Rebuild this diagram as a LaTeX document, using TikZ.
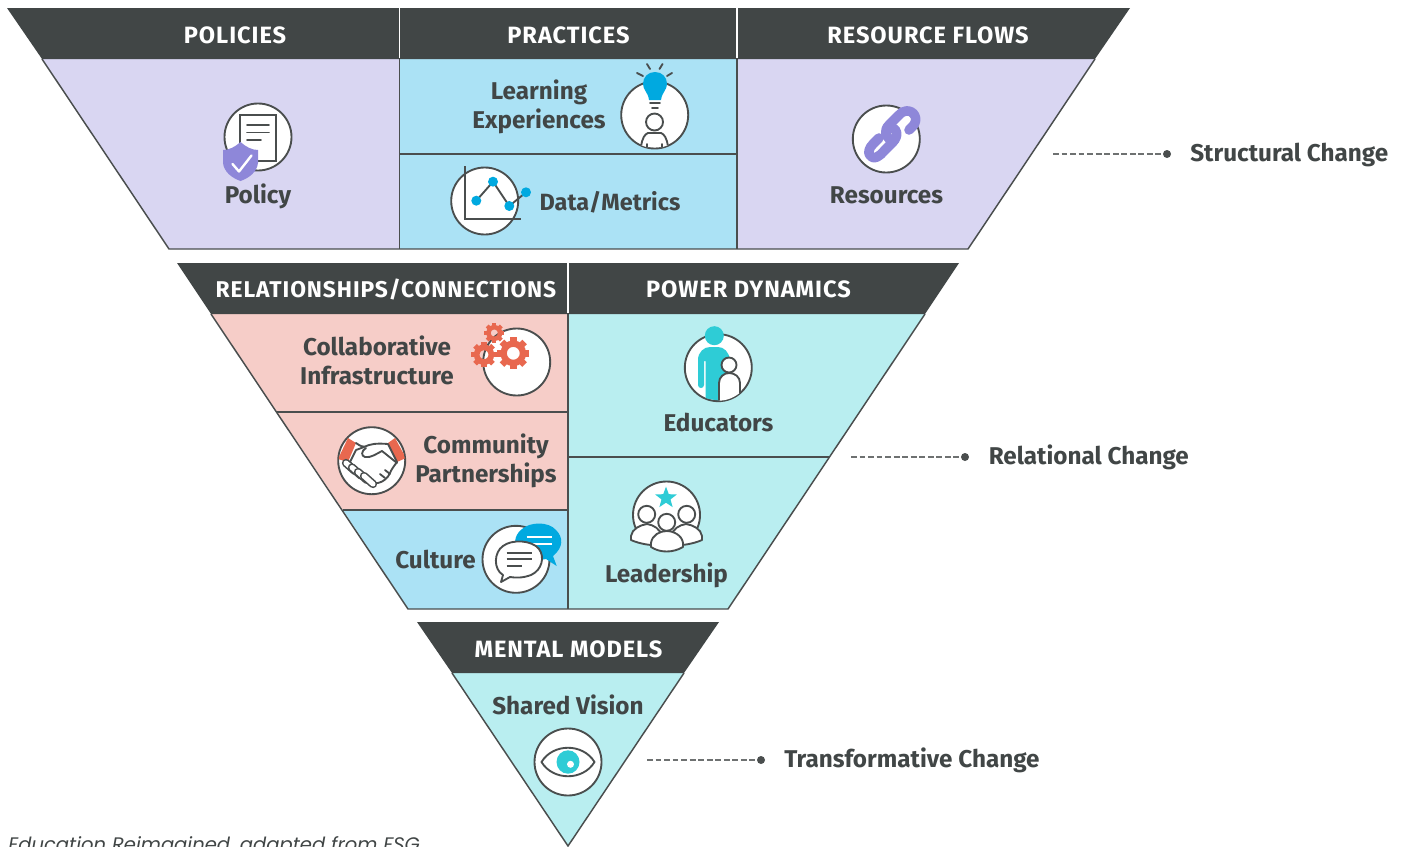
\documentclass[tikz,border=0pt]{standalone}
\usepackage{fontspec}
\setmainfont{Fira Sans}
\newfontfamily\hdfont[LetterSpace=4]{Fira Sans}
\newfontfamily\footfont{Poppins}
\usetikzlibrary{shapes.geometric,calc}
\definecolor{dk}{HTML}{414646}
\definecolor{ln}{HTML}{4A4E4E}
\definecolor{lav}{HTML}{D9D6F2}
\definecolor{sky}{HTML}{ABE2F5}
\definecolor{pnk}{HTML}{F6CDC8}
\definecolor{teal}{HTML}{B9EEF0}
\definecolor{purp}{HTML}{8E87D9}
\definecolor{blu}{HTML}{00A9E0}
\definecolor{cor}{HTML}{E8684F}
\definecolor{cyn}{HTML}{2ECCD6}
\newcommand{\gearicon}[4]{% x,y,r,hole
  \draw[cor,line width={(#3*0.8-#4)*0.75pt}] (#1,#2) circle[radius={(#3*0.8+#4)/2}];
  \foreach \a in {0,45,...,315}{
    \draw[cor,line width={#3*0.4*0.75pt}] ($(#1,#2)+(\a:{#3*0.7} and {#3*0.7})$) -- ($(#1,#2)+(\a:#3 and #3)$);
  }}
\tikzset{
  x=0.75pt,y=-0.75pt,
  seg/.style={draw=ln,line width=1.1pt,line join=miter},
  headbar/.style={fill=dk,draw=none},
  headtxt/.style={anchor=base,text=white,font=\hdfont\bfseries\fontsize{17.7pt}{19pt}\selectfont,inner sep=0pt},
  headlong/.style={anchor=base,text=white,font=\hdfont\bfseries\fontsize{17.1pt}{19pt}\selectfont,inner sep=0pt},
  celltxt/.style={anchor=base,text=dk,font=\bfseries\fontsize{18.2pt}{20pt}\selectfont,inner sep=0pt},
  celltight/.style={anchor=base,text=dk,font=\bfseries\fontsize{17.6pt}{20pt}\selectfont,inner sep=0pt},
  sidetxt/.style={anchor=base west,text=dk,font=\bfseries\fontsize{18.2pt}{20pt}\selectfont,inner sep=0pt},
  ring/.style={fill=white,draw=ln,line width=1.4pt},
  ink/.style={draw=ln,line width=1.4pt,line cap=round,line join=round},
  leader/.style={draw=ln!80,line width=0.8pt,dash pattern=on 4.4pt off 2pt},
  enddot/.style={circle,fill=ln,inner sep=0pt,minimum size=6pt},
}
\begin{document}
\begin{tikzpicture}
\useasboundingbox (0,0) rectangle (1401,846);
\clip (0,0) rectangle (1401,846);
% top trapezoid
\fill[lav] (42,59) -- (399.5,59) -- (399.5,249) -- (169,249) -- cycle;
\fill[sky] (399.5,59) rectangle (737,249);
\fill[lav] (737,59) -- (1095,59) -- (968,249) -- (737,249) -- cycle;
\draw[seg] (42,59) -- (169,249) -- (968,249) -- (1095,59);
\draw[seg] (399.5,59) -- (399.5,249) (737,59) -- (737,249) (399.5,154) -- (737,154);
\fill[headbar] (7,8) -- (1130,8) -- (1095,59) -- (42,59) -- cycle;
\draw[white,line width=1pt] (399.5,8) -- (399.5,58) (737,8) -- (737,58);
% middle trapezoid
\fill[pnk] (211,314) -- (568,314) -- (568,510) -- (343,510) -- cycle;
\fill[sky] (343,510) -- (568,510) -- (568,609) -- (408,609) -- cycle;
\fill[teal] (568,314) -- (925,314) -- (728,609) -- (568,609) -- cycle;
\draw[seg] (211,314) -- (408,609) -- (728,609) -- (925,314);
\draw[seg] (568,314) -- (568,609) (276.5,412) -- (568,412) (342.5,510) -- (568,510) (568,457) -- (829.5,457);
\fill[headbar] (177,263) -- (959,263) -- (925,314) -- (211,314) -- cycle;
\draw[white,line width=1pt] (568,263) -- (568,313);
% bottom triangle
\fill[teal] (452,673) -- (684,673) -- (568,846) -- cycle;
\draw[seg] (452,673) -- (568,846) -- (684,673);
\fill[headbar] (417,622) -- (719,622) -- (684,673) -- (452,673) -- cycle;
% headers
\node[headtxt] (hpol) at (235,43) {POLICIES};
\node[headtxt] (hpra) at (568.5,43) {PRACTICES};
\node[headtxt] (hres) at (928,43) {RESOURCE FLOWS};
\node[headlong] (hrel) at (386,297) {RELATIONSHIPS/CONNECTIONS};
\node[headtxt] (hpow) at (748.5,297) {POWER DYNAMICS};
\node[headtxt] (hmen) at (568.5,657) {MENTAL MODELS};
% cell labels
\node[celltxt] (tpol) at (258,203) {Policy};
\node[celltxt] (tlea) at (539,99) {Learning};
\node[celltxt] (texp) at (539,128.5) {Experiences};
\node[celltight] (tdat) at (610,210) {Data/Metrics};
\node[celltxt] (tres) at (886.5,203.5) {Resources};
\node[celltxt] (tcol) at (377,355) {Collaborative};
\node[celltxt] (tinf) at (377,384) {Infrastructure};
\node[celltxt] (tcom) at (486,453) {Community};
\node[celltxt] (tpar) at (486,482.5) {Partnerships};
\node[celltxt] (tcul) at (435.5,568) {Culture};
\node[celltxt] (tedu) at (718.5,431) {Educators};
\node[celltxt] (tled) at (666.5,582) {Leadership};
\node[celltxt] (tsha) at (568,714.5) {Shared Vision};
% leaders
\coordinate (l1) at (1053,154); \node[enddot] (d1) at (1167,154) {};
\coordinate (l2) at (851,457);  \node[enddot] (d2) at (965,457) {};
\coordinate (l3) at (647,760);  \node[enddot] (d3) at (761,760) {};
\draw[leader] (l1) -- (d1);
\draw[leader] (l2) -- (d2);
\draw[leader] (l3) -- (d3);
\node[sidetxt] (s1) at (1190,161.5) {Structural Change};
\node[sidetxt] (s2) at (988.5,464.5) {Relational Change};
\node[sidetxt] (s3) at (784,767) {Transformative Change};
% footer
\node[anchor=base west,inner sep=0pt,text=dk,font=\footfont\itshape\fontsize{14.68pt}{18pt}\selectfont] (foot) at (8,851) {Education Reimagined, adapted from FSG};
% --- Policy icon
\filldraw[ring] (258,137) circle[radius=33.5];
\draw[ink,fill=white,line cap=butt,line join=miter] (240,115) rectangle (276,161);
\draw[ink] (247,125) -- (269,125) (247,132.5) -- (269,132.5) (247,140) -- (261,140);
\fill[purp] (240.5,142) .. controls (235,147) and (229,150) .. (223,150) -- (223,163) .. controls (224,172) and (232,178) .. (240.5,181) .. controls (249,178) and (257,172) .. (258,163) -- (258,150) .. controls (252,150) and (246,147) .. (240.5,142) -- cycle;
\draw[white,line width=1.8pt,line cap=round,line join=round] (232.5,164) -- (239,171.5) -- (251.5,155.5);
% --- Learning icon
\filldraw[ring] (654.7,115) circle[radius=33.5];
\begin{scope}
\clip (654.5,115) circle[radius=33];
\filldraw[ink,fill=white] (641,147) .. controls (642,138) and (645,134) .. (648,133) -- (661,133) .. controls (664,134) and (667,138) .. (668,147);
\draw[ink] (647,150) -- (647,144) (662,150) -- (662,144);
\end{scope}
\filldraw[ink,fill=white] (654.5,122) circle[radius=8.5];
\fill[blu] (649,100) .. controls (648,92) and (643,90) .. (643,84) .. controls (643,77) and (648,72) .. (655,72) .. controls (662,72) and (667,77) .. (667,84) .. controls (667,90) and (662,92) .. (661,100) -- cycle;
\draw[ink] (650,103) -- (660,103) (652,108) -- (658,108);
\draw[ink] (647,64) -- (650,69) (662.5,64) -- (659.5,69) (637,73) -- (643,76) (672,73) -- (667,76);
% --- Data icon
\filldraw[ring] (484.7,201) circle[radius=33.5];
\draw[ink,line join=miter,line cap=butt] (465,166) -- (465,219) -- (520.7,219);
\draw[ink] (476.3,200.7) -- (493,181.7) -- (509.3,206) -- (526,192.3);
\foreach \p in {(476.3,200.7),(493,181.7),(509.3,206),(526,192.3)} \fill[blu] \p circle[radius=5];
% --- Resources icon
\filldraw[ring] (886.3,139) circle[radius=33.5];
\draw[purp,line width=7.2pt,line cap=round,line join=round] (909,130) -- (913,126) .. controls (919,119) and (914,110) .. (906,111) .. controls (903,111) and (901,113) .. (899,115) -- (889,125) .. controls (884,130) and (885,135) .. (890,140);
\draw[purp,line width=7.2pt,line cap=round,line join=round] (879,138) -- (873,144) .. controls (865,152) and (870,160) .. (877,157) .. controls (880,156) and (882,153) .. (884,151) -- (893,142) .. controls (899,136) and (897,128) .. (892,128) .. controls (890,128) and (888,129) .. (887,130);
% --- Collaborative icon
\filldraw[ring] (516.7,362) circle[radius=33.5];
\gearicon{513.3}{353.3}{16}{6.5}
\gearicon{484}{354.7}{12.7}{4.5}
\gearicon{494.3}{333}{10}{3.5}
% --- Community icon
\filldraw[ring] (371.7,460.7) circle[radius=33.5];
\begin{scope}
\clip (371.7,460.7) circle[radius=33];
\fill[cor] (348,438) -- (356,443) -- (348,462) -- (338,459) -- cycle;
\fill[cor] (388,443) -- (395,438) -- (406,458) -- (397,462) -- cycle;
\end{scope}
\draw[ink] (356,443) .. controls (360,446) and (363,447) .. (366,447);
\filldraw[ink,fill=white] (364,447) .. controls (370,444) and (376,443) .. (388,444) -- (397,462) .. controls (394,466) and (391,470) .. (390,473) .. controls (388,478) and (383,482) .. (378,483) .. controls (372,484) and (368,480) .. (364,478) -- (350,462) -- (356,450) -- cycle;
\filldraw[ink,fill=white] (366,448) .. controls (361,451) and (361,456) .. (365,457) .. controls (371,458) and (376,454) .. (382,451) -- (397,463);
\foreach \cx/\cy in {351/467,357/471.5,363/476,369/480}{
  \draw[ln,line width=6.2pt,line cap=round] ($(\cx,\cy)+(-5,-4)$) -- ($(\cx,\cy)+(4,4)$);
  \draw[white,line width=3.8pt,line cap=round] ($(\cx,\cy)+(-5,-4)$) -- ($(\cx,\cy)+(4,4)$);
}
\draw[ink] (380,474) -- (385,478) (385,470) -- (390,474);
% --- Culture icon
\filldraw[ring] (516,559.3) circle[radius=33.5];
\fill[blu] (556.7,566) -- (546,559) .. controls (536,561) and (527,560) .. (521,554) .. controls (513,547) and (513,536) .. (522,529) .. controls (530,522) and (548,521) .. (556,530) .. controls (563,537) and (564,547) .. (553,556) -- cycle;
\draw[white,line width=1.3pt] (526.7,536.7) -- (552.3,536.7) (526.7,544.3) -- (552.3,544.3);
\filldraw[ink,fill=white] (501,582) -- (503,575) .. controls (493,569) and (494,552) .. (503,546) .. controls (512,539) and (532,540) .. (539,549) .. controls (545,557) and (542,570) .. (531,575) .. controls (523,578) and (516,578) .. (510,577) -- cycle;
\draw[ink,line cap=butt] (506.7,553.3) -- (532.3,553.3) (506.7,559.3) -- (532.3,559.3) (506.7,565.7) -- (521.7,565.7);
% --- Educators icon
\filldraw[ring] (718.3,367.7) circle[radius=33.5];
\fill[cyn] (698,385) -- (698,360) .. controls (698,352) and (704,347) .. (710,347) -- (718,347) .. controls (724,347) and (729,352) .. (730,360) -- (730,375) -- (720,400.5) .. controls (715,400) and (710,399.5) .. (705.5,398) -- (705.5,361) -- (704,361) -- (704,385) .. controls (704,389) and (698,389) .. (698,385) -- cycle;
\begin{scope}
\clip (718.3,367.7) circle[radius=33];
\filldraw[ink,fill=white] (719,402) -- (719,383) .. controls (719,377) and (724,373) .. (729,373) .. controls (735,373) and (740,377) .. (740,383) -- (740,402);
\end{scope}
\fill[cyn] (714.3,335.7) circle[radius=9.5];
\filldraw[ink,fill=white] (729,365) circle[radius=7.5];
% --- Leadership icon
\filldraw[ring] (666.5,515) circle[radius=33.5];
\node[star,star points=5,star point ratio=2.4,fill=cyn,inner sep=0pt,minimum size=17pt] (ldstar) at (666,498) {};
\filldraw[ink,fill=white] (631,540) -- (631,536) .. controls (632,529) and (640,525) .. (647,524) .. controls (654,525) and (660,529) .. (662,536) -- (662,545) .. controls (652,546) and (640,544) .. (631,540) -- cycle;
\filldraw[ink,fill=white] (702,540) -- (702,536) .. controls (701,529) and (693,525) .. (686,524) .. controls (679,525) and (673,529) .. (671,536) -- (671,545) .. controls (681,546) and (693,544) .. (702,540) -- cycle;
\filldraw[ink,fill=white] (646.7,514.3) circle[radius=8.5];
\filldraw[ink,fill=white] (686.7,514.3) circle[radius=8.5];
\filldraw[ink,fill=white] (651,547) -- (651,543) .. controls (652,535) and (660,531) .. (666.7,531) .. controls (673,531) and (682,535) .. (683,543) -- (683,547) .. controls (673,553) and (660,553) .. (651,547) -- cycle;
\filldraw[ink,fill=white] (666.7,522.3) circle[radius=8.5];
% --- Vision icon
\filldraw[ring] (568,762) circle[radius=33.5];
\filldraw[ink,fill=white] (541.5,762) .. controls (553,743) and (583,743) .. (594.5,762) .. controls (583,781) and (553,781) .. (541.5,762) -- cycle;
\fill[cyn] (568,762) ellipse[x radius=11.5,y radius=11.7];
\fill[white] (570.5,764.3) circle[radius=3.5];
\end{tikzpicture}
\end{document}
